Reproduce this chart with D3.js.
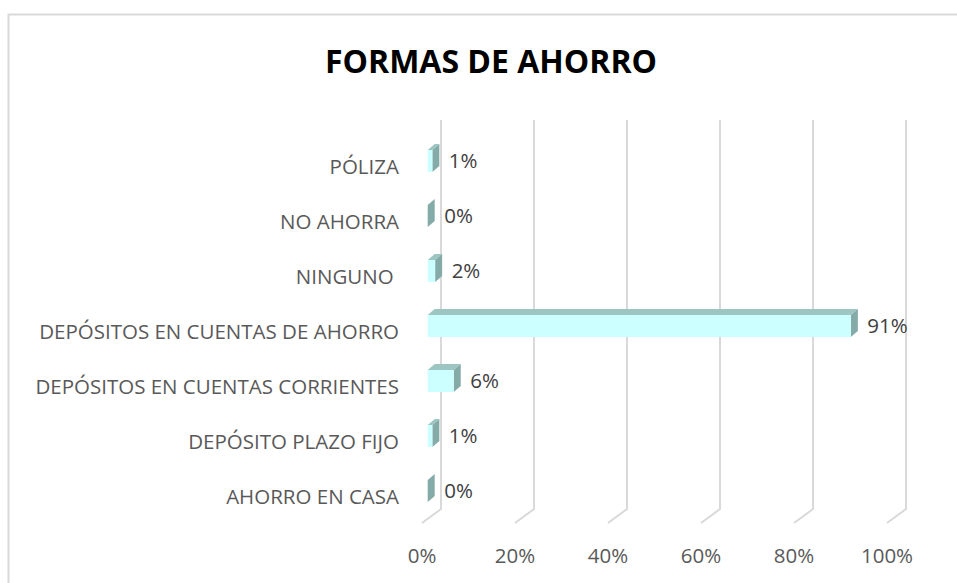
<!DOCTYPE html>
<html>
<head>
<meta charset="utf-8">
<script src="https://cdn.jsdelivr.net/npm/d3@7"></script>
<style>
  body { margin: 0; background: #fff; }
  svg { display: block; }
</style>
</head>
<body>
<svg width="957" height="583"></svg>
<script>
const svg = d3.select("svg")

// datos (de arriba hacia abajo)
const categorias = [
    "PÓLIZA",
    "NO AHORRA",
    "NINGUNO ",
    "DEPÓSITOS EN CUENTAS DE AHORRO",
    "DEPÓSITOS EN CUENTAS CORRIENTES",
    "DEPÓSITO PLAZO FIJO",
    "AHORRO EN CASA"
];
const valores = [0.01, 0.0, 0.016, 0.91, 0.056, 0.01, 0.0];
const ticks = [0, 0.2, 0.4, 0.6, 0.8, 1.0];
const titulo = "FORMAS DE AHORRO";

const font = "'Open Sans', sans-serif";
const fontSize = 20.5;

// profundidad 3D
const floorDx = 19, floorDy = 14;   // pared trasera -> frente del piso
const wallDx = 13.3;                // pared trasera -> cara frontal de la barra
const barDx = 7, barDy = 6;         // profundidad de la barra
const barH = 22;

// escala frontal de las barras
const x = d3.scaleLinear().domain([0, 1]).range([427.7, 892.7]);
const y = d3.scalePoint().domain(categorias).range([133.5, 518.5]).padding(0.5);

// borde del grafico
svg.append("rect")
    .attr("x", 8.5).attr("y", 14.5)
    .attr("width", 1000).attr("height", 700)
    .attr("fill", "none")
    .attr("stroke", "#d9d9d9")
    .attr("stroke-width", 2);

// titulo
svg.append("text")
    .attr("x", 491).attr("y", 73)
    .attr("text-anchor", "middle")
    .attr("font-family", font)
    .attr("font-weight", "bold")
    .attr("font-size", 32)
    .attr("fill", "#000")
    .text(titulo);

// lineas de cuadricula (pared trasera + piso)
const grid = svg.append("g")
    .attr("stroke", "#d9d9d9")
    .attr("stroke-width", 2)
    .attr("fill", "none");

grid.selectAll("path")
    .data(ticks)
    .enter().append("path")
        .attr("d", function(d) {
            const xb = x(d) + wallDx;
            return "M" + xb + ",120 L" + xb + ",509 L" + (xb - floorDx) + "," + (509 + floorDy);
        });

// etiquetas del eje x
svg.append("g")
    .selectAll("text")
    .data(ticks)
    .enter().append("text")
        .attr("x", function(d) { return x(d) + wallDx - floorDx; })
        .attr("y", 562.5)
        .attr("text-anchor", "middle")
        .attr("font-family", font)
        .attr("font-size", fontSize)
        .attr("fill", "#595959")
        .text(d3.format(".0%"));

// etiquetas de categorias
svg.append("g")
    .selectAll("text")
    .data(categorias)
    .enter().append("text")
        .attr("x", 399)
        .attr("y", function(d) { return y(d) + 12.5; })
        .attr("text-anchor", "end")
        .attr("font-family", font)
        .attr("font-size", fontSize)
        .attr("fill", "#595959")
        .style("white-space", "pre")
        .text(function(d) { return d; });

// barras 3D
const datos = categorias.map(function(c, i) { return {cat: c, val: valores[i]}; });

const barras = svg.append("g")
    .selectAll("g")
    .data(datos)
    .enter().append("g");

// cara superior
barras.append("path")
    .attr("fill", "#9dc6c3")
    .attr("d", function(d) {
        const x0 = x(0), x1 = x(d.val), y0 = y(d.cat) - barH / 2;
        return "M" + x0 + "," + y0 + " L" + (x0 + barDx) + "," + (y0 - barDy) +
            " L" + (x1 + barDx) + "," + (y0 - barDy) + " L" + x1 + "," + y0 + " Z";
    });

// cara lateral
barras.append("path")
    .attr("fill", "#85aba9")
    .attr("d", function(d) {
        const x1 = x(d.val), y0 = y(d.cat) - barH / 2;
        return "M" + x1 + "," + y0 + " L" + (x1 + barDx) + "," + (y0 - barDy) +
            " L" + (x1 + barDx) + "," + (y0 - barDy + barH) + " L" + x1 + "," + (y0 + barH) + " Z";
    });

// cara frontal
barras.append("rect")
    .attr("fill", "#ccffff")
    .attr("x", x(0))
    .attr("y", function(d) { return y(d.cat) - barH / 2; })
    .attr("width", function(d) { return x(d.val) - x(0); })
    .attr("height", barH);

// etiquetas de datos
barras.append("text")
    .attr("x", function(d) { return x(d.val) + barDx + 9.5; })
    .attr("y", function(d) { return y(d.cat) + 7.3; })
    .attr("font-family", font)
    .attr("font-size", fontSize)
    .attr("fill", "#404040")
    .text(function(d) { return d3.format(".0%")(d.val); });
</script>
</body>
</html>
